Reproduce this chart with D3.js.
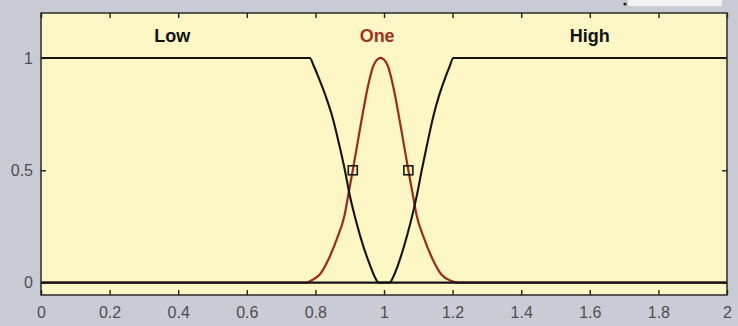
<!DOCTYPE html>
<html>
<head>
<meta charset="utf-8">
<script src="https://cdn.jsdelivr.net/npm/d3@7/dist/d3.min.js"></script>
<style>
  html, body { margin: 0; padding: 0; background: #c9cbd5; }
  svg { display: block; font-family: "Liberation Sans", Arial, sans-serif; }
</style>
</head>
<body>
<svg id="chart" width="738" height="326"></svg>
<script>
// Membership functions over the input range [0, 2]
const lowX  = [0, 0.784, 0.795, 0.810, 0.830, 0.850, 0.870, 0.886, 0.900, 0.920, 0.940, 0.960, 0.975, 0.984, 2];
const lowY  = [1, 1,     0.965, 0.910, 0.830, 0.735, 0.610, 0.500, 0.390, 0.265, 0.160, 0.075, 0.020, 0,     0];

const oneX  = [0, 0.775, 0.785, 0.812, 0.840, 0.864, 0.885, 0.897, 0.909, 0.925, 0.939, 0.952, 0.970, 0.990, 1.010, 1.028, 1.041, 1.055, 1.071, 1.083, 1.095, 1.116, 1.140, 1.168, 1.195, 1.215, 2];
const oneY  = [0, 0,     0.008, 0.035, 0.110, 0.200, 0.300, 0.400, 0.500, 0.640, 0.761, 0.865, 0.969, 1.000, 0.969, 0.865, 0.761, 0.640, 0.500, 0.400, 0.300, 0.200, 0.110, 0.035, 0.008, 0,     0];

const highX = [0, 1.017, 1.025, 1.040, 1.058, 1.077, 1.096, 1.110, 1.125, 1.143, 1.160, 1.178, 1.192, 1.202, 2];
const highY = [0, 0,     0.020, 0.075, 0.160, 0.265, 0.390, 0.500, 0.610, 0.735, 0.830, 0.910, 0.965, 1,     1];

// Half-height points of "One"
const markerX = [0.909, 1.071];
const markerY = [0.5, 0.5];

// Set names and where they are written
const setNames  = ["Low", "One", "High"];
const setNameX  = [0.383, 0.98, 1.6];
const setColors = ["#111111", "#a3301f", "#111111"];

const xTicks = [0, 0.2, 0.4, 0.6, 0.8, 1, 1.2, 1.4, 1.6, 1.8, 2];
const yTicks = [0, 0.5, 1];

const W = 738, H = 326;
const margin = { top: 13, right: 11, bottom: 31, left: 41 };
const iw = W - margin.left - margin.right;
const ih = H - margin.top - margin.bottom;

const svg = d3.select("#chart");

// small white strip along the top edge
svg.append("rect").attr("x", 628).attr("y", 0).attr("width", 94).attr("height", 6).attr("fill", "#f3f3f5");
svg.append("circle").attr("cx", 625).attr("cy", 4).attr("r", 1.6).attr("fill", "#222");

const g = svg.append("g").attr("transform", `translate(${margin.left},${margin.top})`);

const x = d3.scaleLinear().domain([0, 2]).range([0, iw]);
const y = d3.scaleLinear().domain([-0.055, 1.2]).range([ih, 0]);

g.append("rect").attr("width", iw).attr("height", ih).attr("fill", "#fcf7c4");

const line = d3.line()
  .x(d => x(d[0]))
  .y(d => y(d[1]))
  .curve(d3.curveMonotoneX);

const zip = (a, b) => a.map((v, i) => [v, b[i]]);

g.append("path").datum(zip(oneX, oneY))
  .attr("d", line).attr("fill", "none").attr("stroke", "#9e2a1c").attr("stroke-width", 2.2);
g.append("path").datum(zip(lowX, lowY))
  .attr("d", line).attr("fill", "none").attr("stroke", "#141414").attr("stroke-width", 2.1);
g.append("path").datum(zip(highX, highY))
  .attr("d", line).attr("fill", "none").attr("stroke", "#141414").attr("stroke-width", 2.1);

g.selectAll("rect.marker").data(zip(markerX, markerY)).enter()
  .append("rect").attr("class", "marker")
  .attr("x", d => x(d[0]) - 4.5).attr("y", d => y(d[1]) - 4.5)
  .attr("width", 9).attr("height", 9)
  .attr("fill", "none").attr("stroke", "#1a1a1a").attr("stroke-width", 1.6);

g.selectAll("text.setname").data(setNames).enter()
  .append("text").attr("class", "setname")
  .attr("x", (d, i) => x(setNameX[i]))
  .attr("y", y(1.071))
  .attr("text-anchor", "middle")
  .attr("font-size", 18).attr("font-weight", "bold")
  .attr("fill", (d, i) => setColors[i])
  .text(d => d);

// Axes with inward ticks on all four sides
const fmt = d => d3.format("~g")(d);
const styleAxis = sel => {
  sel.select(".domain").remove();
  sel.selectAll(".tick line").attr("stroke", "#222").attr("stroke-width", 1.4);
  sel.selectAll("text").attr("fill", "#4e4e4e").attr("font-size", 16).attr("font-family", "'Liberation Sans', Arial, sans-serif");
};

g.append("g").attr("transform", `translate(0,${ih})`)
  .call(d3.axisBottom(x).tickValues(xTicks).tickFormat(fmt).tickSizeInner(-5).tickSizeOuter(0).tickPadding(12))
  .call(styleAxis);
g.append("g")
  .call(d3.axisTop(x).tickValues(xTicks).tickFormat("").tickSizeInner(-5).tickSizeOuter(0))
  .call(styleAxis);
g.append("g")
  .call(d3.axisLeft(y).tickValues(yTicks).tickFormat(fmt).tickSizeInner(-5).tickSizeOuter(0).tickPadding(8))
  .call(styleAxis);
g.append("g").attr("transform", `translate(${iw},0)`)
  .call(d3.axisRight(y).tickValues(yTicks).tickFormat("").tickSizeInner(-5).tickSizeOuter(0))
  .call(styleAxis);

g.append("rect").attr("width", iw).attr("height", ih)
  .attr("fill", "none").attr("stroke", "#1e1e1e").attr("stroke-width", 1.4);
</script>
</body>
</html>
